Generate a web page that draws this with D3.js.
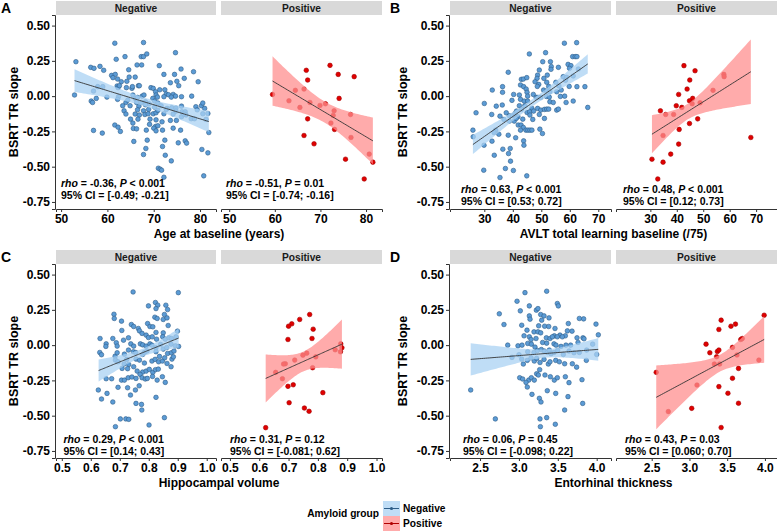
<!DOCTYPE html>
<html><head><meta charset="utf-8">
<script src="https://cdn.jsdelivr.net/npm/d3@7/dist/d3.min.js"></script>
<style>body{margin:0;background:#fff}svg{display:block;font-family:"Liberation Sans",Arial,sans-serif}</style>
</head><body><svg id="c" width="777" height="531"></svg>
<script>
// ---------------- DATA ----------------
const groups = ["Negative", "Positive"];
const yTicks = [0.50, 0.25, 0.00, -0.25, -0.50, -0.75];
const ageTicks = [50, 60, 70, 80];
const avltTicks = [30, 40, 50, 60, 70];
const hippoTicks = [0.5, 0.6, 0.7, 0.8, 0.9, 1.0];
const entoTicks = [2.5, 3.0, 3.5, 4.0];

const ageNeg = [[61.6,0.375],[67.8,0.38],[61.9,0.261],[63.8,0.28],[67.3,0.28],[67.8,0.28],[68.5,0.299],[74.7,0.308],[53.2,0.244],[56.4,0.204],[57.1,0.197],[58.4,0.211],[59.2,0.183],[64.6,0.187],[66.4,0.221],[67.4,0.221],[71.2,0.216],[75.9,0.192],[74.5,0.154],[78.6,0.173],[72.2,0.154],[76.6,0.126],[79.6,0.102],[60.9,0.147],[61.7,0.154],[61.2,0.131],[62.2,0.121],[64.7,0.135],[66.0,0.135],[63.0,0.102],[64.2,0.105],[66.7,0.074],[66.9,0.074],[73.6,0.095],[75.0,0.105],[75.4,0.074],[62.1,0.072],[62.3,0.06],[62.6,0.074],[57.9,0.067],[59.0,0.067],[57.0,0.036],[64.1,0.06],[65.3,0.055],[65.4,0.067],[69.4,0.06],[69.9,0.055],[70.4,0.031],[71.3,0.045],[72.4,0.045],[72.7,0.015],[73.2,0.01],[74.2,0.012],[74.7,0.0],[76.0,-0.004],[78.2,0.0],[52.9,0.008],[57.6,-0.016],[59.9,-0.007],[62.4,-0.004],[65.5,0.008],[66.0,-0.016],[66.5,-0.009],[67.5,0.0],[67.9,0.008],[70.5,0.008],[70.8,-0.007],[69.8,-0.016],[72.2,-0.004],[73.8,-0.007],[56.5,-0.035],[56.8,-0.045],[62.2,-0.023],[64.0,-0.045],[64.4,-0.028],[66.3,-0.045],[67.3,-0.045],[68.2,-0.04],[69.0,-0.054],[70.2,-0.035],[70.9,-0.049],[63.3,-0.068],[64.9,-0.068],[66.8,-0.071],[68.2,-0.061],[68.9,-0.094],[70.2,-0.078],[71.6,-0.068],[72.9,-0.087],[73.9,-0.082],[74.8,-0.085],[76.0,-0.071],[79.1,-0.075],[80.3,-0.068],[80.6,-0.049],[81.0,-0.087],[63.6,-0.104],[66.5,-0.097],[67.8,-0.104],[69.9,-0.125],[70.5,-0.118],[70.9,-0.101],[72.2,-0.125],[72.7,-0.094],[74.8,-0.106],[76.1,-0.111],[76.8,-0.111],[77.0,-0.134],[74.2,-0.127],[80.6,-0.125],[81.7,-0.123],[79.4,-0.097],[64.0,-0.127],[66.0,-0.127],[68.1,-0.13],[68.8,-0.125],[66.9,-0.134],[65.0,-0.163],[66.6,-0.163],[69.2,-0.163],[70.5,-0.168],[71.8,-0.182],[73.6,-0.172],[74.9,-0.172],[76.0,-0.146],[76.5,-0.127],[78.1,-0.16],[78.8,-0.16],[81.3,-0.165],[65.5,-0.191],[69.1,-0.2],[70.4,-0.215],[70.9,-0.21],[70.0,-0.227],[71.9,-0.241],[74.2,-0.227],[75.8,-0.241],[65.6,-0.229],[66.3,-0.232],[68.4,-0.241],[70.5,-0.246],[61.6,-0.205],[62.3,-0.22],[57.0,-0.243],[58.9,-0.262],[62.8,-0.25],[81.9,-0.258],[65.7,-0.321],[68.6,-0.312],[72.4,-0.312],[76.8,-0.317],[77.1,-0.333],[75.3,-0.331],[68.3,-0.371],[71.9,-0.357],[67.8,-0.414],[73.8,-0.459],[72.5,-0.419],[80.4,-0.378],[81.7,-0.402],[71.0,-0.511],[71.4,-0.518],[71.7,-0.525],[72.2,-0.575],[80.8,-0.565]];
const agePos = [[59.5,0.012],[63.1,-0.033],[64.5,0.041],[65.5,-0.08],[66.4,0.05],[66.4,-0.279],[66.9,0.183],[67.2,0.114],[67.2,-0.161],[67.7,-0.045],[68.6,-0.338],[69.9,-0.066],[71.1,-0.054],[72.1,0.218],[72.3,-0.191],[72.8,-0.137],[73.0,-0.104],[73.1,-0.236],[73.9,0.154],[74.1,-0.016],[75.5,-0.447],[76.6,-0.13],[76.7,-0.293],[77.4,0.138],[79.6,-0.587],[80.7,-0.411],[81.5,-0.468]];

const avltNeg = [[58.1,0.375],[62.4,0.379],[45.8,0.299],[51.5,0.308],[61.0,0.28],[61.9,0.28],[62.5,0.28],[50.5,0.244],[53.2,0.244],[59.4,0.225],[60.4,0.216],[59.9,0.197],[56.0,0.204],[53.5,0.209],[53.4,0.19],[49.3,0.185],[38.4,0.169],[63.0,0.192],[48.7,0.149],[52.1,0.149],[57.7,0.138],[58.9,0.133],[61.2,0.143],[43.0,0.119],[43.7,0.121],[44.9,0.131],[48.5,0.126],[50.9,0.126],[47.8,0.102],[55.1,0.098],[58.5,0.112],[42.7,0.079],[49.1,0.083],[51.9,0.098],[36.4,0.067],[32.8,0.043],[43.8,0.067],[44.7,0.05],[48.6,0.069],[52.6,0.069],[56.2,0.072],[59.8,0.069],[62.5,0.067],[65.3,0.067],[36.4,0.027],[40.3,0.012],[42.3,0.008],[45.0,0.027],[47.2,0.012],[50.8,0.043],[51.9,0.036],[53.0,0.031],[55.4,0.031],[57.0,0.043],[45.2,0.0],[48.2,-0.009],[48.8,-0.009],[49.8,-0.009],[51.8,-0.002],[52.8,-0.007],[56.7,-0.002],[58.2,0.0],[30.0,-0.052],[34.2,-0.071],[36.3,-0.063],[39.7,-0.03],[42.7,-0.023],[44.0,-0.035],[45.2,-0.035],[53.0,-0.04],[54.2,-0.045],[58.7,-0.045],[61.2,-0.035],[42.3,-0.068],[44.2,-0.068],[43.0,-0.094],[46.7,-0.087],[48.7,-0.087],[49.8,-0.099],[51.1,-0.094],[51.9,-0.092],[52.6,-0.092],[55.4,-0.099],[56.0,-0.092],[66.3,-0.08],[27.1,-0.118],[32.6,-0.13],[35.5,-0.142],[37.7,-0.118],[38.8,-0.139],[39.9,-0.139],[40.8,-0.123],[41.3,-0.106],[41.8,-0.146],[45.0,-0.116],[45.9,-0.111],[47.3,-0.106],[46.0,-0.134],[36.9,-0.165],[38.8,-0.177],[40.5,-0.177],[41.2,-0.158],[43.5,-0.163],[47.0,-0.165],[51.1,-0.158],[49.3,-0.13],[41.9,-0.205],[42.9,-0.205],[43.7,-0.222],[44.6,-0.241],[45.3,-0.241],[46.0,-0.241],[46.7,-0.241],[42.7,-0.241],[49.5,-0.234],[34.0,-0.241],[33.4,-0.258],[26.0,-0.241],[50.4,-0.265],[26.1,-0.288],[32.7,-0.319],[35.1,-0.27],[38.4,-0.277],[41.0,-0.295],[43.8,-0.317],[43.9,-0.348],[29.9,-0.348],[36.5,-0.376],[39.1,-0.371],[38.5,-0.407],[33.5,-0.419],[39.2,-0.461],[29.8,-0.525],[37.4,-0.513],[40.2,-0.527],[35.5,-0.577],[44.9,-0.565]];
const avltPos = [[42.7,0.216],[46.9,0.18],[44.9,0.114],[57.8,0.154],[57.9,0.138],[43.9,0.05],[40.7,0.012],[53.7,0.041],[46.0,-0.016],[44.8,-0.033],[45.8,-0.054],[48.8,-0.047],[39.8,-0.068],[41.9,-0.08],[33.8,-0.104],[35.8,-0.13],[38.8,-0.13],[44.8,-0.194],[47.9,-0.161],[40.9,-0.236],[34.8,-0.279],[40.7,-0.34],[68.0,-0.293],[37.7,-0.411],[30.6,-0.447],[34.8,-0.468],[32.8,-0.587]];

const hippoNeg = [[0.746,0.377],[0.902,0.372],[0.799,0.278],[0.823,0.302],[0.831,0.283],[0.859,0.283],[0.865,0.252],[0.825,0.259],[0.680,0.219],[0.681,0.189],[0.706,0.17],[0.740,0.146],[0.748,0.132],[0.796,0.153],[0.804,0.132],[0.814,0.13],[0.821,0.198],[0.829,0.189],[0.854,0.217],[0.850,0.182],[0.863,0.193],[0.867,0.139],[0.707,0.104],[0.764,0.118],[0.768,0.101],[0.777,0.083],[0.791,0.071],[0.799,0.054],[0.812,0.059],[0.825,0.09],[0.827,0.042],[0.850,0.087],[0.848,0.059],[0.857,0.042],[0.870,0.052],[0.878,0.047],[0.894,0.059],[0.899,0.099],[0.632,0.047],[0.676,0.047],[0.713,0.035],[0.730,0.052],[0.653,0.009],[0.652,-0.009],[0.688,0.017],[0.691,-0.007],[0.738,0.009],[0.748,-0.007],[0.771,0.009],[0.779,0.002],[0.791,-0.007],[0.804,0.009],[0.811,0.0],[0.825,-0.019],[0.841,0.005],[0.850,-0.028],[0.862,-0.017],[0.877,0.007],[0.892,-0.005],[0.903,-0.009],[0.631,-0.052],[0.637,-0.068],[0.684,-0.078],[0.691,-0.054],[0.716,-0.064],[0.730,-0.035],[0.747,-0.047],[0.755,-0.052],[0.779,-0.066],[0.785,-0.052],[0.794,-0.042],[0.825,-0.047],[0.837,-0.08],[0.865,-0.059],[0.878,-0.054],[0.887,-0.042],[0.685,-0.106],[0.694,-0.118],[0.715,-0.134],[0.724,-0.101],[0.731,-0.137],[0.756,-0.099],[0.768,-0.106],[0.785,-0.127],[0.811,-0.113],[0.822,-0.101],[0.834,-0.118],[0.847,-0.113],[0.855,-0.09],[0.880,-0.099],[0.885,-0.083],[0.708,-0.165],[0.727,-0.167],[0.748,-0.153],[0.760,-0.184],[0.779,-0.191],[0.791,-0.184],[0.802,-0.172],[0.814,-0.193],[0.823,-0.174],[0.833,-0.17],[0.863,-0.13],[0.877,-0.153],[0.653,-0.238],[0.672,-0.238],[0.706,-0.248],[0.716,-0.248],[0.729,-0.231],[0.742,-0.226],[0.756,-0.236],[0.770,-0.207],[0.777,-0.231],[0.788,-0.24],[0.795,-0.236],[0.813,-0.222],[0.829,-0.248],[0.847,-0.224],[0.857,-0.264],[0.626,-0.318],[0.656,-0.342],[0.637,-0.382],[0.694,-0.299],[0.727,-0.302],[0.737,-0.354],[0.754,-0.318],[0.767,-0.288],[0.676,-0.403],[0.756,-0.413],[0.775,-0.42],[0.776,-0.46],[0.825,-0.37],[0.702,-0.523],[0.721,-0.523],[0.731,-0.526],[0.685,-0.578],[0.801,-0.566],[0.854,-0.514]];
const hippoPos = [[0.772,0.217],[0.738,0.182],[0.711,0.151],[0.700,0.134],[0.784,0.113],[0.780,0.047],[0.698,0.04],[0.878,0.009],[0.882,-0.019],[0.859,-0.033],[0.877,-0.047],[0.762,-0.057],[0.749,-0.071],[0.793,-0.083],[0.721,-0.106],[0.689,-0.132],[0.683,-0.134],[0.656,-0.193],[0.782,-0.16],[0.679,-0.238],[0.716,-0.281],[0.698,-0.292],[0.817,-0.337],[0.702,-0.408],[0.754,-0.446],[0.770,-0.469],[0.622,-0.585]];

const entoNeg = [[3.078,0.372],[3.357,0.382],[2.976,0.311],[3.134,0.278],[3.224,0.248],[3.245,0.259],[3.494,0.295],[3.507,0.278],[3.018,0.243],[2.748,0.222],[2.808,0.146],[3.134,0.207],[3.143,0.184],[3.28,0.217],[3.323,0.207],[3.387,0.193],[3.293,0.177],[3.036,0.141],[3.254,0.137],[3.331,0.134],[3.383,0.132],[3.464,0.118],[3.635,0.153],[3.777,0.189],[3.832,0.186],[3.991,0.149],[3.104,0.106],[3.194,0.094],[3.245,0.094],[3.28,0.087],[3.455,0.066],[3.528,0.071],[3.597,0.066],[3.623,0.101],[3.683,0.099],[3.824,0.052],[4.021,0.073],[3.066,0.066],[3.134,0.059],[3.156,0.04],[3.22,0.047],[3.353,0.052],[3.40,0.047],[3.43,0.059],[3.494,0.059],[3.558,0.059],[3.747,0.052],[3.837,0.045],[2.856,0.0],[2.988,-0.005],[3.04,0.0],[3.113,0.012],[3.16,0.007],[3.207,-0.014],[3.305,0.019],[3.357,0.014],[3.451,0.009],[3.477,0.0],[3.541,-0.009],[3.605,0.0],[3.665,0.0],[3.76,0.019],[3.948,0.007],[2.911,-0.087],[3.001,-0.068],[3.113,-0.047],[3.194,-0.052],[3.237,-0.038],[3.288,-0.031],[3.327,-0.042],[3.365,-0.052],[3.391,-0.035],[3.413,-0.061],[3.451,-0.052],[3.498,-0.038],[3.571,-0.066],[3.644,-0.042],[3.708,-0.054],[3.777,-0.052],[3.871,-0.035],[4.0,-0.066],[3.036,-0.099],[3.057,-0.134],[3.108,-0.108],[3.156,-0.09],[3.198,-0.113],[3.228,-0.094],[3.271,-0.123],[3.323,-0.101],[3.378,-0.134],[3.40,-0.118],[3.473,-0.108],[3.52,-0.118],[3.588,-0.132],[3.687,-0.132],[3.742,-0.156],[3.867,-0.108],[3.01,-0.231],[3.048,-0.24],[3.126,-0.248],[3.16,-0.231],[3.228,-0.203],[3.25,-0.212],[3.267,-0.174],[3.335,-0.212],[3.404,-0.224],[3.455,-0.248],[3.494,-0.231],[3.597,-0.224],[3.644,-0.266],[3.811,-0.245],[3.091,-0.264],[3.198,-0.248],[3.108,-0.297],[3.365,-0.323],[3.473,-0.342],[3.631,-0.365],[3.82,-0.413],[3.168,-0.349],[3.263,-0.377],[3.284,-0.403],[3.588,-0.46],[3.271,-0.523],[3.357,-0.514],[3.468,-0.561],[3.276,-0.578],[2.697,-0.523],[2.38,-0.318]];
const entoPos = [[2.56,-0.193],[2.72,-0.471],[3.03,-0.448],[3.10,-0.283],[3.22,0.007],[3.27,-0.054],[3.42,0.177],[3.33,-0.134],[3.36,-0.082],[3.37,-0.045],[3.39,-0.035],[3.39,0.111],[3.40,-0.134],[3.39,-0.294],[3.42,-0.584],[3.51,-0.341],[3.57,-0.016],[3.57,-0.235],[3.55,0.134],[3.63,-0.07],[3.65,-0.165],[3.65,-0.412],[3.61,0.149],[3.68,0.04],[3.70,0.047],[3.92,-0.106],[3.99,0.212]];

// linear fits: [xStart, xEnd, yStart, yEnd, ciHalfStart, ciHalfMin, ciHalfEnd]
const ageFit   = [[52.9, 81.9, 0.110, -0.180, 0.080, 0.030, 0.075], [59.5, 81.5, 0.107, -0.317, 0.175, 0.075, 0.165]];
const avltFit  = [[26.0, 66.3, -0.343, 0.228, 0.068, 0.025, 0.068], [30.6, 68.0, -0.270, 0.173, 0.135, 0.055, 0.229]];
const hippoFit = [[0.627, 0.903, -0.180, 0.050, 0.078, 0.028, 0.066], [0.622, 0.882, -0.236, 0.007, 0.170, 0.070, 0.174]];
const entoFit  = [[2.38, 4.02, -0.101, -0.030, 0.115, 0.030, 0.080], [2.56, 3.99, -0.370, 0.040, 0.226, 0.060, 0.165]];

const statsA = [["-0.36","< 0.001","[-0.49; -0.21]"],["-0.51","= 0.01","[-0.74; -0.16]"]];
const statsB = [["0.63","< 0.001","[0.53; 0.72]"],["0.48","< 0.001","[0.12; 0.73]"]];
const statsC = [["0.29","< 0.001","[0.14; 0.43]"],["0.31","= 0.12","[-0.081; 0.62]"]];
const statsD = [["0.06","= 0.45","[-0.098; 0.22]"],["0.43","= 0.03","[0.060; 0.70]"]];

// ---------------- LAYOUT / STYLE ----------------
const FONT = '"Liberation Sans", Arial, sans-serif';
const colors = {
  Negative: {pt:"#5b9bd5", stroke:"#2d5d88", band:"#a9d2f3", key:"#2d5d88"},
  Positive: {pt:"#e00000", stroke:"#a30000", band:"#ff8f8f", key:"#b00000"}
};
const cols = [
  {panels:[[56,216],[221,382]], axisX:55, yTitleX:13},
  {panels:[[450,611],[616,777]], axisX:449, yTitleX:402}
];
const rows = [{strip:[1,15], plot:[15,209]}, {strip:[250,264], plot:[264,458]}];
const yDomain = [-0.80, 0.575];

const panels = [
  {letter:"A", row:0, col:0, title:"Age at baseline (years)", ticks:ageTicks, fmt:d=>String(d),
   data:[ageNeg, agePos], fit:ageFit, dom:[[48.9,83.45],[48.2,83.5]], stats:statsA, sdx:[5,5], sdy:-22.5},
  {letter:"B", row:0, col:1, title:"AVLT total learning baseline (/75)", ticks:avltTicks, fmt:d=>String(d),
   data:[avltNeg, avltPos], fit:avltFit, dom:[[17.96,74.46],[17.0,77.9]], stats:statsB, sdx:[11,7], sdy:-16},
  {letter:"C", row:1, col:0, title:"Hippocampal volume", ticks:hippoTicks, fmt:d=>d.toFixed(1),
   data:[hippoNeg, hippoPos], fit:hippoFit, dom:[[0.480,1.032],[0.4696,1.0187]], stats:statsC, sdx:[7.5,9], sdy:-15},
  {letter:"D", row:1, col:1, title:"Entorhinal thickness", ticks:entoTicks, fmt:d=>d.toFixed(1),
   data:[entoNeg, entoPos], fit:entoFit, dom:[[2.114,4.184],[2.027,4.16]], stats:statsD, sdx:[13,9], sdy:-15}
];

const svg = d3.select("#c");

// band shaped like a linear-model confidence band, through the read end widths and minimum width
function band(f){
  const [xL,xR,yL,yR,hL,h0,hR] = f;
  const a=Math.sqrt(hL*hL-h0*h0), b=Math.sqrt(hR*hR-h0*h0);
  const xc=(b*xL+a*xR)/(a+b), k=(a/(xc-xL))**2;
  return d3.range(61).map(i=>{
    const x=xL+(xR-xL)*i/60, y=yL+(yR-yL)*(x-xL)/(xR-xL), h=Math.sqrt(h0*h0+k*(x-xc)**2);
    return {x, y, lo:y-h, hi:y+h};
  });
}

panels.forEach(p=>{
  const R=rows[p.row], C=cols[p.col];
  const y = d3.scaleLinear().domain(yDomain).range([R.plot[1], R.plot[0]]);
  svg.append("text").attr("x", p.col===0?1:390).attr("y", R.strip[0]+12)
    .attr("font-size",14).attr("font-weight","bold").attr("fill","#000").text(p.letter);
  const ya = svg.append("g").attr("transform",`translate(${C.axisX},0)`)
    .call(d3.axisLeft(y).tickValues(yTicks).tickFormat(d=>d.toFixed(2)).tickSizeOuter(0).tickSize(3).tickPadding(2));
  ya.attr("font-family",FONT).attr("font-size",12).attr("font-weight","bold");
  ya.selectAll("text").attr("fill","#000");
  ya.selectAll("path,line").attr("stroke","#333");
  svg.append("text").attr("transform",`translate(${C.yTitleX+4.5},${(R.plot[0]+R.plot[1])/2}) rotate(-90)`)
    .attr("text-anchor","middle").attr("font-size",12.5).attr("font-weight","bold").text("BSRT TR slope");

  groups.forEach((g,gi)=>{
    const [L,Rr] = C.panels[gi];
    const x = d3.scaleLinear().domain(p.dom[gi]).range([L,Rr]);
    const col = colors[g];
    svg.append("rect").attr("x",L).attr("y",R.strip[0]).attr("width",Rr-L).attr("height",R.strip[1]-R.strip[0]).attr("fill","#d9d9d9");
    svg.append("text").attr("x",(L+Rr)/2).attr("y",R.strip[1]-3.5).attr("text-anchor","middle")
      .attr("font-size",10.2).attr("font-weight","bold").attr("fill","#1a1a1a").text(g);
    const xa = svg.append("g").attr("transform",`translate(0,${R.plot[1]})`)
      .call(d3.axisBottom(x).tickValues(p.ticks).tickFormat(p.fmt).tickSizeOuter(0).tickSize(3).tickPadding(2));
    xa.attr("font-family",FONT).attr("font-size",12).attr("font-weight","bold");
    xa.selectAll("text").attr("fill","#000");
    xa.selectAll("path,line").attr("stroke","#333");
    const pts = p.data[gi];
    svg.append("g").selectAll("circle").data(pts).join("circle")
      .attr("cx",d=>x(d[0])).attr("cy",d=>y(d[1])).attr("r",2.3)
      .attr("fill",col.pt).attr("stroke",col.stroke).attr("stroke-width",0.6);
    const f = band(p.fit[gi]);
    svg.append("path").datum(f).attr("fill",col.band).attr("opacity",0.75)
      .attr("d", d3.area().x(d=>x(d.x)).y0(d=>y(d.lo)).y1(d=>y(d.hi)));
    svg.append("path").datum(f).attr("fill","none").attr("stroke","#333").attr("stroke-width",0.9)
      .attr("d", d3.line().x(d=>x(d.x)).y(d=>y(d.y)));
    const s = p.stats[gi];
    const t1 = svg.append("text").attr("x",L+p.sdx[gi]).attr("y",R.plot[1]+p.sdy)
      .attr("font-size",10.5).attr("font-weight","bold").attr("fill","#000");
    t1.append("tspan").attr("font-style","italic").text("rho");
    t1.append("tspan").text(` = ${s[0]}, `);
    t1.append("tspan").attr("font-style","italic").text("P");
    t1.append("tspan").text(` ${s[1]}`);
    svg.append("text").attr("x",L+p.sdx[gi]).attr("y",R.plot[1]+p.sdy+12.3)
      .attr("font-size",10.5).attr("font-weight","bold").attr("fill","#000").text(`95% CI = ${s[2]}`);
  });
  const [L0] = C.panels[0], [,R1] = C.panels[1];
  svg.append("text").attr("x",(L0+R1)/2).attr("y",R.plot[1]+29)
    .attr("text-anchor","middle").attr("font-size",12).attr("font-weight","bold").text(p.title);
});

// legend
const lg = svg.append("g");
lg.append("text").attr("x",379).attr("y",517).attr("text-anchor","end")
  .attr("font-size",10.2).attr("font-weight","bold").text("Amyloid group");
groups.forEach((g,i)=>{
  const yy = 501 + i*15, col = colors[g];
  lg.append("rect").attr("x",383).attr("y",yy).attr("width",17).attr("height",15).attr("fill",col.band).attr("opacity",0.75);
  lg.append("line").attr("x1",384).attr("x2",399).attr("y1",yy+7.5).attr("y2",yy+7.5).attr("stroke",col.key).attr("stroke-width",1);
  lg.append("circle").attr("cx",391.5).attr("cy",yy+7.5).attr("r",1.6).attr("fill",col.key);
  lg.append("text").attr("x",403).attr("y",yy+11.3).attr("font-size",10.2).attr("font-weight","bold").text(g);
});
</script></body></html>
